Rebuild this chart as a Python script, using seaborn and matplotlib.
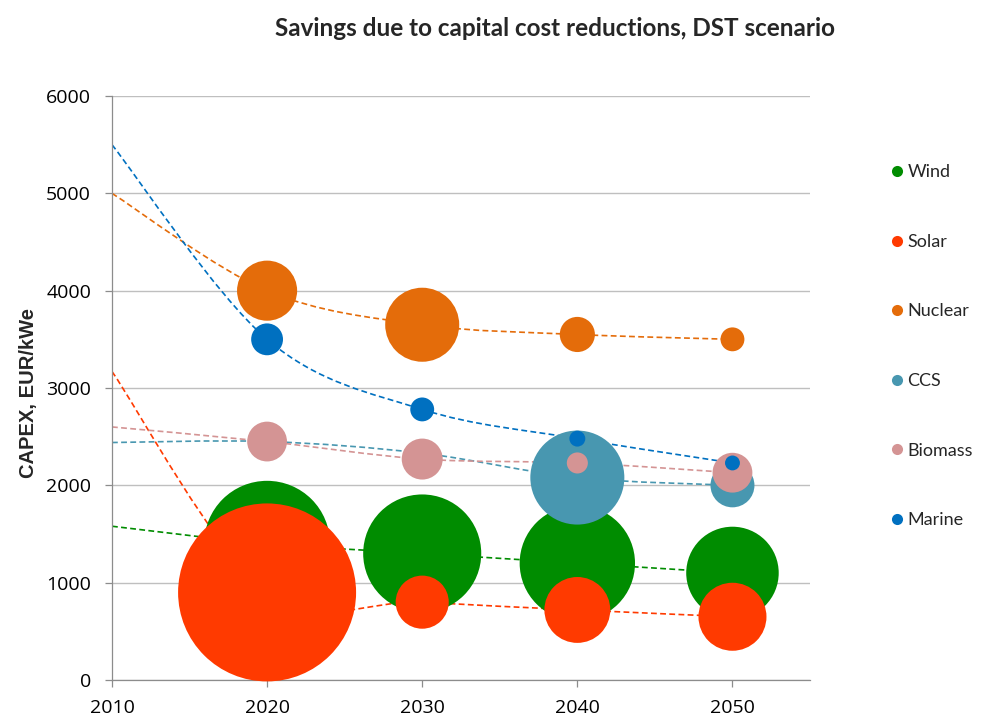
import numpy as np
import pandas as pd
import matplotlib
matplotlib.use("Agg")
import matplotlib.pyplot as plt
from matplotlib.path import Path
from matplotlib.patches import PathPatch
from matplotlib.lines import Line2D
import seaborn as sns

# dashed trend lines: CAPEX per technology, 2010-2050
line_years = [2010, 2020, 2030, 2040, 2050]
wind_capex = [1580, 1400, 1300, 1200, 1100]
solar_capex = [3170, 900, 800, 720, 650]
nuclear_capex = [5000, 4000, 3650, 3550, 3500]
ccs_capex = [2440, 2450, 2330, 2080, 2000]
biomass_capex = [2600, 2450, 2270, 2230, 2130]
marine_capex = [5500, 3500, 2780, 2480, 2230]

# bubble sizes (savings, relative units) for 2020-2050
bubble_years = [2020, 2030, 2040, 2050]
wind_size = [50, 44, 42, 27]
solar_size = [100, 8.9, 13.7, 14.6]
nuclear_size = [11.4, 17.3, 3.9, 1.8]
ccs_size = [0, 0, 27.9, 6.1]
biomass_size = [5.0, 5.3, 1.4, 5.0]
marine_size = [3.2, 1.8, 0.8, 0.7]

techs = ["Wind", "Solar", "Nuclear", "CCS", "Biomass", "Marine"]
colors = ["#008C00", "#FF3A00", "#E46C0A", "#4897B0", "#D49494", "#0070C0"]
capex = [wind_capex, solar_capex, nuclear_capex, ccs_capex, biomass_capex, marine_capex]
sizes = [wind_size, solar_size, nuclear_size, ccs_size, biomass_size, marine_size]

rows = []
for tech, cap, sz in zip(techs, capex, sizes):
    for yr, s in zip(bubble_years, sz):
        if s > 0:
            rows.append({"tech": tech, "year": yr, "capex": cap[line_years.index(yr)], "size": s})
df = pd.DataFrame(rows)


def smooth_path(xs, ys):
    # Excel-like smoothed line: Catmull-Rom segments as cubic Bezier curves
    pts = np.column_stack([xs, ys]).astype(float)
    n = len(pts)
    verts = [pts[0]]
    codes = [Path.MOVETO]
    for i in range(n - 1):
        p0 = pts[max(i - 1, 0)]
        p1 = pts[i]
        p2 = pts[i + 1]
        p3 = pts[min(i + 2, n - 1)]
        verts += [p1 + (p2 - p0) / 6, p2 - (p3 - p1) / 6, p2]
        codes += [Path.CURVE4] * 3
    return Path(verts, codes)


sns.set_theme(style="white")
plt.rcParams["font.family"] = ["Open Sans", "DejaVu Sans"]

fig = plt.figure(figsize=(10.05, 7.19), dpi=100)
ax = fig.add_axes([0.1114, 0.0542, 0.806 - 0.1114, 0.8665 - 0.0542])

for cap, col in zip(capex, colors):
    ax.add_patch(PathPatch(smooth_path(line_years, cap), fill=False, edgecolor=col,
                           lw=1.2, linestyle=(0, (3.5, 2)), zorder=2))

s_max = (2 * 89 * 72 / 100) ** 2
sns.scatterplot(data=df, x="year", y="capex", hue="tech", palette=dict(zip(techs, colors)),
                size="size", sizes=(0, s_max), size_norm=(0, 100), linewidth=0,
                alpha=1, legend=False, ax=ax, zorder=3, clip_on=False)

ax.set_xlim(2010, 2055)
ax.set_ylim(0, 6000)
ax.set_xticks([2010, 2020, 2030, 2040, 2050])
ax.set_yticks(range(0, 6001, 1000))
ax.set_xlabel("")
ax.set_ylabel("")
ax.yaxis.grid(True, color="#BFBFBF", lw=1)
ax.xaxis.grid(False)
for side in ["top", "right"]:
    ax.spines[side].set_visible(False)
for side in ["left", "bottom"]:
    ax.spines[side].set_color("#8C8C8C")
    ax.spines[side].set_linewidth(0.9)
ax.tick_params(axis="both", which="both", length=5, width=0.9, color="#8C8C8C",
               labelsize=14, labelcolor="black", direction="out")
ax.tick_params(axis="y", pad=10, left=True)
ax.tick_params(axis="x", pad=9, bottom=True)

fig.text(0.552, 1 - 28 / 719, "Savings due to capital cost reductions, DST scenario",
         ha="center", va="center", fontsize=17.5, fontweight="bold", family=["Lato", "DejaVu Sans"])
fig.text(0.028, 1 - 393 / 719, "CAPEX, EUR/kWe", rotation=90, ha="center", va="center",
         fontsize=14.5, fontweight="bold", family=["Liberation Sans", "DejaVu Sans"])

handles = [Line2D([], [], marker="o", linestyle="", markersize=8, markerfacecolor=c,
                  markeredgewidth=0, label=t) for t, c in zip(techs, colors)]
fig.legend(handles=handles, loc="upper left", bbox_to_anchor=(0.876, 1 - 157 / 719),
           frameon=False, labelspacing=2.97, handletextpad=0.1,
           handlelength=1.0, borderaxespad=0, prop={"family": ["Lato", "DejaVu Sans"], "size": 13})

fig.savefig("out.png", dpi=100)
